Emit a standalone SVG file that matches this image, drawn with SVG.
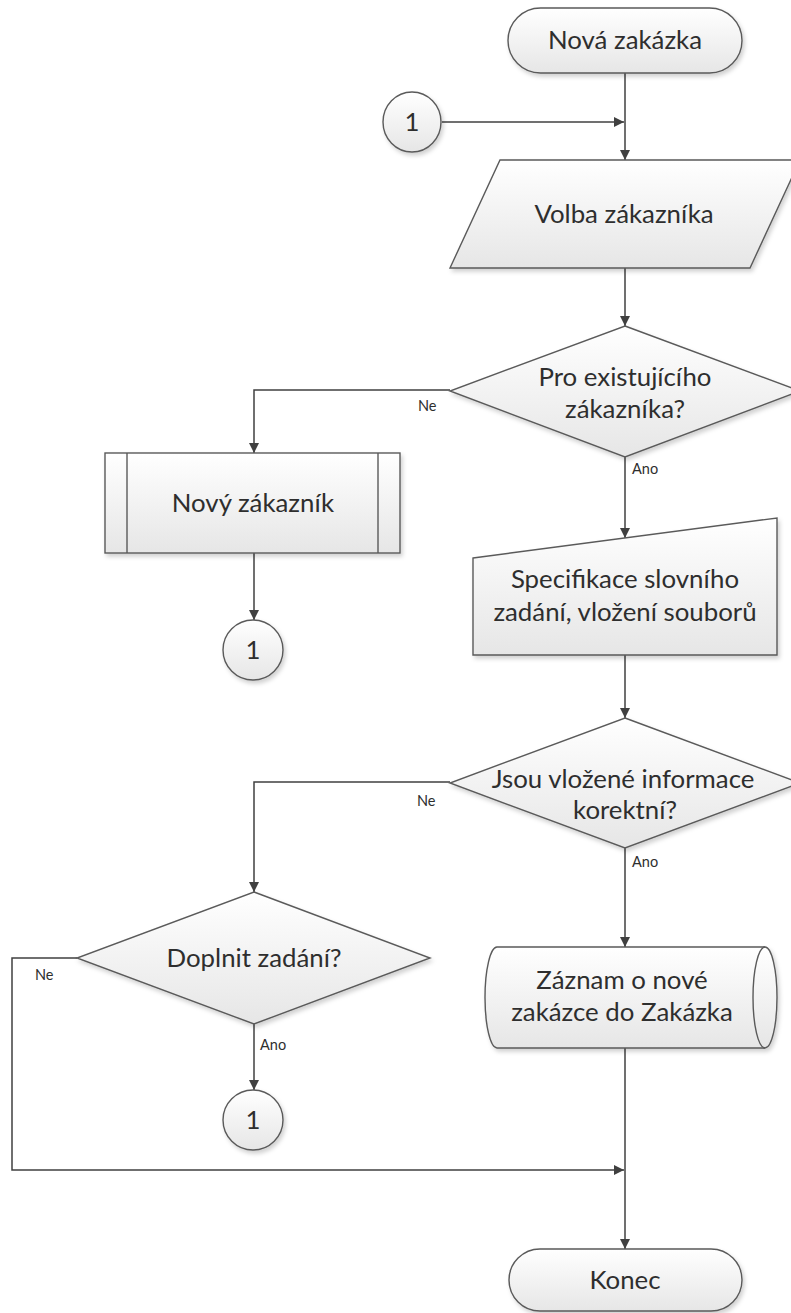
<svg xmlns="http://www.w3.org/2000/svg" width="791" height="1313" viewBox="0 0 791 1313">
  <defs>
    <linearGradient id="shapeFill" x1="0" y1="0" x2="0" y2="1">
      <stop offset="0" stop-color="#ffffff"/>
      <stop offset="1" stop-color="#e6e6e6"/>
    </linearGradient>
    <filter id="shadow" x="-10%" y="-10%" width="130%" height="130%">
      <feDropShadow dx="2" dy="3" stdDeviation="2" flood-color="#000" flood-opacity="0.18"/>
    </filter>
    <marker id="arrow" viewBox="0 0 10 10" refX="10" refY="5" markerUnits="userSpaceOnUse" markerWidth="13" markerHeight="10" orient="auto">
      <path d="M0,0 L10,5 L0,10 z" fill="#404040"/>
    </marker>
    <style>
      .shape { fill: url(#shapeFill); stroke: #5a5a5a; stroke-width: 1.4; filter: url(#shadow); }
      .inner { fill: none; stroke: #5a5a5a; stroke-width: 1.4; }
      .txt { font-family: Lato, "Liberation Sans", sans-serif; font-size: 25.8px; fill: #2e2e2e; text-anchor: middle; }
      .lbl { font-family: Lato, "Liberation Sans", sans-serif; font-size: 14.5px; fill: #2e2e2e; }
      .conn { fill: none; stroke: #404040; stroke-width: 1.5; }
    </style>
  </defs>

  <rect width="791" height="1313" fill="#ffffff"/>

  <!-- connectors -->
  <g id="connectors">
    <path class="conn" d="M625,73 V160" marker-end="url(#arrow)"/>
    <path class="conn" d="M442,122 H624" marker-end="url(#arrow)"/>
    <path class="conn" d="M625,268 V326" marker-end="url(#arrow)"/>
    <path class="conn" d="M450,390 H254 V453" marker-end="url(#arrow)"/>
    <path class="conn" d="M254,553 V620" marker-end="url(#arrow)"/>
    <path class="conn" d="M625,457 V538" marker-end="url(#arrow)"/>
    <path class="conn" d="M625,655 V718" marker-end="url(#arrow)"/>
    <path class="conn" d="M450,782 H254 V892" marker-end="url(#arrow)"/>
    <path class="conn" d="M625,848 V947" marker-end="url(#arrow)"/>
    <path class="conn" d="M77,958 H12 V1170 H624" marker-end="url(#arrow)"/>
    <path class="conn" d="M254,1024 V1090" marker-end="url(#arrow)"/>
    <path class="conn" d="M625,1048 V1249" marker-end="url(#arrow)"/>
    <text class="lbl" x="418" y="411">Ne</text>
    <text class="lbl" x="632" y="474">Ano</text>
    <text class="lbl" x="417" y="806">Ne</text>
    <text class="lbl" x="632" y="867">Ano</text>
    <text class="lbl" x="35" y="980">Ne</text>
    <text class="lbl" x="260" y="1050">Ano</text>
  </g>

  <!-- start terminal -->
  <g id="start">
    <rect class="shape" x="508" y="8" width="234" height="65" rx="32.5" ry="32.5"/>
    <text class="txt" x="625" y="49">Nová zakázka</text>
  </g>

  <!-- on-page connector feeding the customer choice -->
  <g id="ref-top">
    <ellipse class="shape" cx="412" cy="122" rx="29" ry="30"/>
    <text class="txt" x="412" y="131">1</text>
  </g>

  <!-- manual input: customer choice -->
  <g id="choose-customer">
    <polygon class="shape" points="500,160 800,160 750,268 450,268"/>
    <text class="txt" x="624" y="223">Volba zákazníka</text>
  </g>

  <!-- decision: existing customer -->
  <g id="existing-customer">
    <polygon class="shape" points="625,326 800,391 625,457 450,391"/>
    <text class="txt" x="625" y="386">Pro existujícího</text>
    <text class="txt" x="625" y="418">zákazníka?</text>
  </g>

  <!-- predefined process: new customer -->
  <g id="new-customer">
    <rect class="shape" x="105" y="453" width="295" height="100"/>
    <line class="inner" x1="127" y1="453" x2="127" y2="553"/>
    <line class="inner" x1="378" y1="453" x2="378" y2="553"/>
    <text class="txt" x="253" y="512">Nový zákazník</text>
  </g>

  <g id="ref-new-customer">
    <ellipse class="shape" cx="253" cy="650" rx="30" ry="30"/>
    <text class="txt" x="253" y="659">1</text>
  </g>

  <!-- manual operation: specification -->
  <g id="specification">
    <polygon class="shape" points="473,558 777,518 777,655 473,655"/>
    <text class="txt" x="625" y="588">Specifikace slovního</text>
    <text class="txt" x="625" y="621">zadání, vložení souborů</text>
  </g>

  <!-- decision: information correct -->
  <g id="info-correct">
    <polygon class="shape" points="625,718 800,783 625,848 450,783"/>
    <text class="txt" x="623" y="788">Jsou vložené informace</text>
    <text class="txt" x="625" y="819">korektní?</text>
  </g>

  <!-- decision: complete the assignment -->
  <g id="complete-assignment">
    <polygon class="shape" points="254,892 430,958 254,1024 77,958"/>
    <text class="txt" x="254" y="967">Doplnit zadání?</text>
  </g>

  <g id="ref-complete">
    <ellipse class="shape" cx="253" cy="1120" rx="30" ry="30"/>
    <text class="txt" x="253" y="1129">1</text>
  </g>

  <!-- direct access storage: order record -->
  <g id="order-record">
    <path class="shape" d="M497,947 H765 A12,50.5 0 0 1 765,1048 H497 A12,50.5 0 0 1 497,947 Z"/>
    <path class="inner" d="M765,947 A12,50.5 0 0 0 765,1048"/>
    <text class="txt" x="622" y="989">Záznam o nové</text>
    <text class="txt" x="622" y="1021">zakázce do Zakázka</text>
  </g>

  <!-- end terminal -->
  <g id="end">
    <rect class="shape" x="509" y="1249" width="233" height="62" rx="31" ry="31"/>
    <text class="txt" x="625" y="1289">Konec</text>
  </g>
</svg>
